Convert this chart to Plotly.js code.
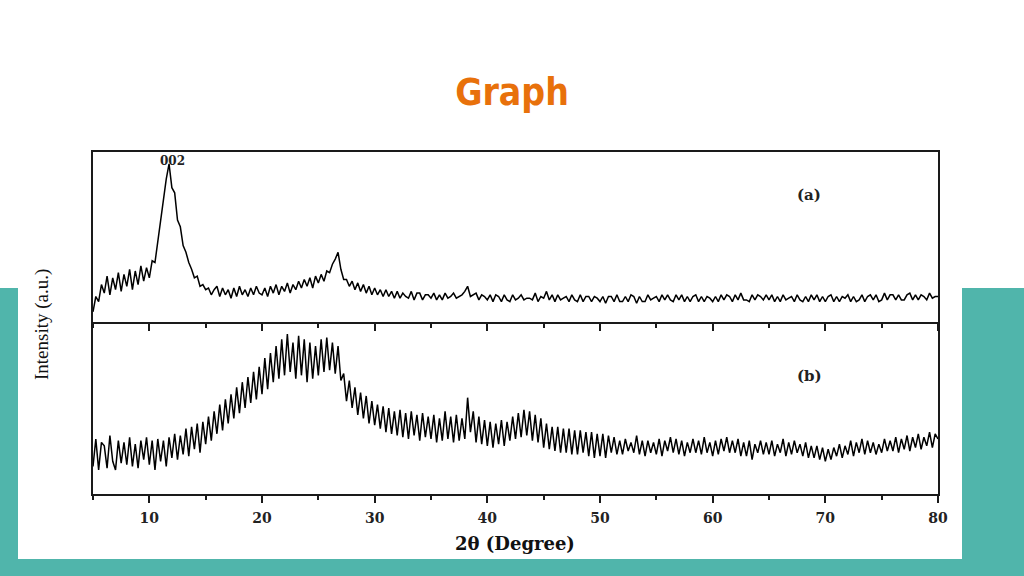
<!DOCTYPE html>
<html>
<head>
<meta charset="utf-8">
<script src="https://cdn.plot.ly/plotly-3.0.1.min.js"></script>
<style>html,body{margin:0;padding:0;background:#fff;}#chart{width:1024px;height:576px;}</style>
</head>
<body>
<div id="chart"></div>
<script>
// 2θ grid: 5 to 80 in steps of 0.25
const twoThetaStart = 5;
const twoThetaStep = 0.25;

// Pattern (a): intensity (a.u.), one group per degree (4 samples)
const intensityA = [
  6,15,12,22, 17,27,16,26, 19,29,18,28, 21,31,19,30, 22,33,24,32,
  26,36,35,48, 58,74,84,93, 79,76,60,56, 45,41,35,31, 26,27,21,22,
  19,20,16,19, 21,15,20,16, 19,14,20,15, 21,16,19,15, 20,16,21,17,
  16,20,15,21, 17,22,16,21, 18,23,17,22, 19,24,20,25, 21,26,20,27,
  23,28,24,30, 29,34,37,41, 31,25,25,21, 24,19,23,18, 22,17,21,16,
  20,16,19,15, 19,15,18,14, 18,14,17,15, 14,18,13,17, 17,13,16,16,
  14,17,13,16, 13,17,14,15, 17,14,15,16, 18,21,15,16, 17,13,16,15,
  13,16,12,16, 15,12,16,13, 12,16,13,14, 16,13,14,14, 13,17,12,15,
  14,18,13,16, 12,16,13,14, 15,12,16,13, 12,16,12,15, 15,12,15,14,
  12,15,11,15, 15,12,16,12, 12,15,12,16, 15,11,15,12, 12,16,13,14,
  15,12,16,13, 16,13,12,16, 13,16,12,15, 12,15,16,12, 15,12,15,14,
  12,15,12,16, 13,16,15,12, 16,13,17,13, 13,12,16,13, 16,15,13,16,
  13,16,12,15, 12,16,13,14, 15,12,16,13, 12,15,12,16, 13,16,12,15,
  12,15,16,12, 15,12,15,14, 16,12,15,12, 13,16,12,15, 16,13,16,12,
  13,17,13,16, 16,13,16,13, 13,16,17,13, 16,13,16,15, 13,17,14,15,
  15
];

// Pattern (b): intensity (a.u.), one group per degree (4 samples)
const intensityB = [
  16,32,14,30, 28,15,34,19, 14,31,18,30, 17,33,16,29, 15,31,20,33,
  17,31,14,32, 19,31,16,33, 21,35,20,34, 23,38,22,39, 26,41,24,42,
  29,45,31,48, 35,52,37,55, 41,58,44,62, 47,65,50,68, 53,71,55,74,
  58,79,61,82, 65,86,67,90, 69,93,71,88, 67,92,69,90, 65,88,67,86,
  69,90,71,91, 72,88,70,86, 66,70,54,66, 50,62,46,59, 44,57,41,54,
  40,52,38,51, 36,50,35,48, 34,49,33,47, 32,48,34,46, 31,47,33,45,
  32,46,30,44, 31,48,32,45, 30,46,31,44, 32,56,36,48, 30,45,29,43,
  28,42,27,41, 29,43,28,42, 31,45,32,47, 33,49,34,48, 31,46,30,44,
  27,41,26,39, 25,39,24,38, 24,38,23,37, 23,37,24,36, 22,36,21,35,
  22,35,21,34, 24,33,23,31, 23,32,25,30, 24,34,23,31, 22,31,24,30,
  23,32,22,31, 25,33,24,32, 23,31,22,30, 24,32,24,31, 23,33,24,30,
  22,31,23,32, 25,33,24,31, 24,32,22,30, 22,31,20,29, 24,31,23,30,
  23,31,22,29, 24,32,22,30, 23,31,24,29, 22,30,21,28, 21,28,20,27,
  19,26,20,27, 22,29,21,28, 23,31,22,30, 24,32,23,31, 24,30,23,29,
  24,32,25,31, 25,33,24,32, 26,34,25,33, 27,35,26,33, 28,36,27,35,
  32
];

const xTickVals = [10,20,30,40,50,60,70,80];
const xTickText = ['10','20','30','40','50','60','70','80'];

// Layout helpers (pixel -> paper fraction)
const L = 93, R = 938, T = 152, B = 494;
const W = R - L, H = B - T;
const px = v => (v - L) / W;
const py = v => (B - v) / H;
const split = py(322);

const lineCol = '#1a1a1a';
const axisCommon = {
  range: [5, 80], showgrid: false, zeroline: false,
  showline: true, linecolor: lineCol, linewidth: 2,
  ticks: 'outside', ticklen: 7, tickwidth: 2, tickcolor: lineCol,
  tickvals: xTickVals, ticktext: xTickText,
  minor: {dtick: 5, tick0: 5, ticks: 'outside', ticklen: 4, tickwidth: 2, tickcolor: lineCol}
};

const traces = [
  {x0: twoThetaStart, dx: twoThetaStep, y: intensityA, xaxis: 'x2', yaxis: 'y2',
   type: 'scatter', mode: 'lines', line: {color: '#000', width: 1.5}, hoverinfo: 'skip'},
  {x0: twoThetaStart, dx: twoThetaStep, y: intensityB, xaxis: 'x', yaxis: 'y',
   type: 'scatter', mode: 'lines', line: {color: '#000', width: 1.5}, hoverinfo: 'skip'}
];

const serifBold = {family: '"DejaVu Serif", serif', color: '#222', weight: 'bold'};

const layout = {
  width: 1024, height: 576,
  margin: {l: L, r: 1024 - R, t: T, b: 576 - B},
  paper_bgcolor: '#ffffff', plot_bgcolor: '#ffffff',
  showlegend: false,
  title: {text: '<b>Graph</b>', x: 0.5, xref: 'container', xanchor: 'center',
          y: 1 - 92/576, yref: 'container', yanchor: 'middle',
          font: {family: '"DejaVu Sans Condensed", "Liberation Sans Narrow", sans-serif', size: 37, color: '#e8710b'}},
  xaxis: Object.assign({}, axisCommon, {anchor: 'y', domain: [0, 1], mirror: false,
    showticklabels: true, ticklabelstandoff: 3,
    tickfont: Object.assign({}, serifBold, {size: 14})}),
  xaxis2: Object.assign({}, axisCommon, {anchor: 'y2', domain: [0, 1], mirror: true, showticklabels: false, matches: 'x'}),
  yaxis: {domain: [0, split], range: [0, 100], showgrid: false, zeroline: false,
          showline: true, linecolor: lineCol, linewidth: 2, mirror: true, showticklabels: false, ticks: ''},
  yaxis2: {domain: [split, 1], range: [0, 100], showgrid: false, zeroline: false,
          showline: true, linecolor: lineCol, linewidth: 2, mirror: true, showticklabels: false, ticks: ''},
  shapes: [
    {type: 'rect', xref: 'paper', yref: 'paper', layer: 'below',
     x0: px(0), x1: px(1024), y0: py(576), y1: py(288), fillcolor: '#50b5ab', line: {width: 0}},
    {type: 'rect', xref: 'paper', yref: 'paper', layer: 'below',
     x0: px(18), x1: px(962), y0: py(559), y1: py(130), fillcolor: '#ffffff', line: {width: 0}}
  ],
  annotations: [
    {text: 'Intensity (a.u.)', xref: 'paper', yref: 'paper', x: px(42), y: py(325),
     textangle: -90, showarrow: false, xanchor: 'center', yanchor: 'middle',
     font: {family: '"Liberation Serif", "Times New Roman", serif', size: 19, color: '#111'}},
    {text: '2θ (Degree)', xref: 'paper', yref: 'paper', x: px(515), y: py(543),
     showarrow: false, xanchor: 'center', yanchor: 'middle',
     font: Object.assign({}, serifBold, {size: 18, color: '#111'})},
    {text: '002', xref: 'paper', yref: 'paper', x: px(172), y: py(161),
     showarrow: false, xanchor: 'center', yanchor: 'middle',
     font: Object.assign({}, serifBold, {size: 12})},
    {text: '(a)', xref: 'paper', yref: 'paper', x: px(809), y: py(195),
     showarrow: false, xanchor: 'center', yanchor: 'middle',
     font: Object.assign({}, serifBold, {size: 15})},
    {text: '(b)', xref: 'paper', yref: 'paper', x: px(809), y: py(376),
     showarrow: false, xanchor: 'center', yanchor: 'middle',
     font: Object.assign({}, serifBold, {size: 15})}
  ]
};

Plotly.newPlot('chart', traces, layout, {displayModeBar: false, staticPlot: true});
</script>
</body>
</html>
